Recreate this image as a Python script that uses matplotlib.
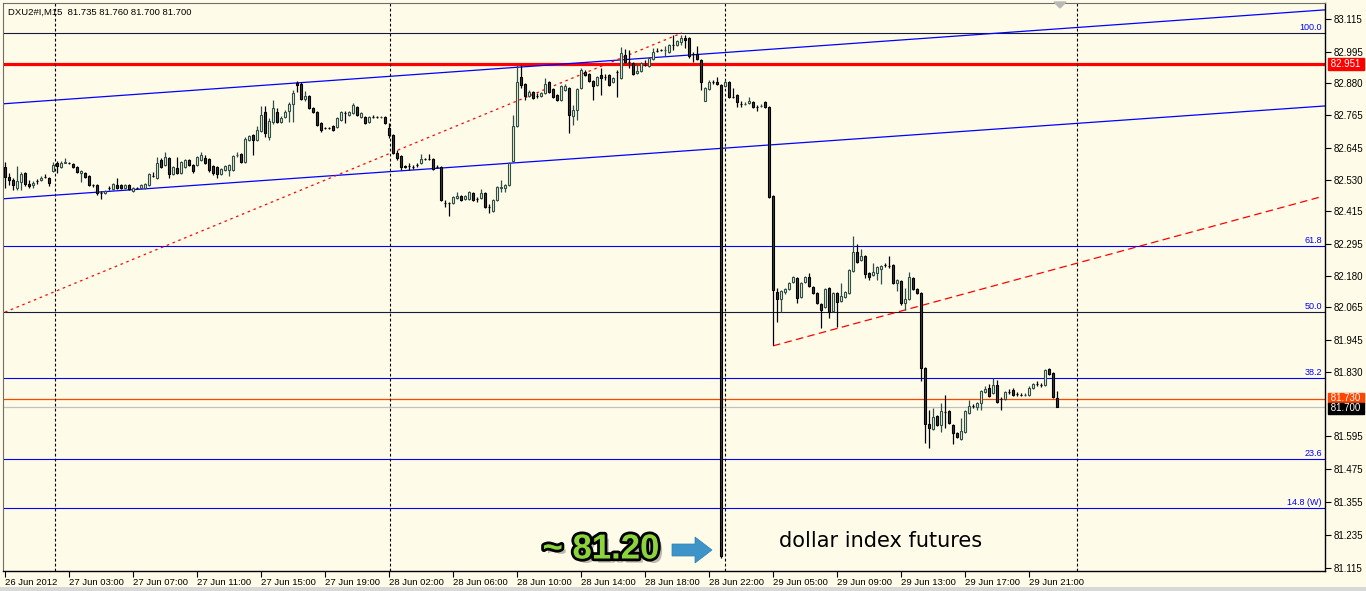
import matplotlib
matplotlib.use('Agg')
import matplotlib.pyplot as plt
import numpy as np
from matplotlib import patheffects as pe
from matplotlib.patches import Polygon

plt.rcParams['font.family'] = ['Liberation Sans', 'DejaVu Sans']

# ---------------- data (DXU2#I, M15) ----------------
opens = [
82.576, 82.539, 82.528, 82.499, 82.521, 82.554, 82.514, 82.510, 82.525, 82.528,
82.539, 82.536, 82.561, 82.590, 82.576, 82.592, 82.591, 82.587, 82.576, 82.554,
82.554, 82.543, 82.511, 82.510, 82.482, 82.481, 82.500, 82.495, 82.510, 82.510,
82.499, 82.510, 82.488, 82.500, 82.499, 82.499, 82.510, 82.544, 82.536, 82.601,
82.583, 82.608, 82.550, 82.572, 82.554, 82.576, 82.601, 82.583, 82.583, 82.601,
82.608, 82.605, 82.579, 82.576, 82.550, 82.565, 82.565, 82.565, 82.618, 82.623,
82.594, 82.674, 82.692, 82.674, 82.707, 82.776, 82.685, 82.740, 82.776, 82.740,
82.758, 82.780, 82.805, 82.880, 82.878, 82.823, 82.834, 82.791, 82.776, 82.736,
82.719, 82.718, 82.725, 82.721, 82.747, 82.773, 82.765, 82.772, 82.794, 82.758,
82.758, 82.740, 82.759, 82.758, 82.757, 82.758, 82.718, 82.692, 82.627, 82.616,
82.579, 82.580, 82.577, 82.584, 82.590, 82.606, 82.605, 82.605, 82.577, 82.576,
82.446, 82.445, 82.445, 82.463, 82.470, 82.459, 82.459, 82.481, 82.460, 82.463,
82.481, 82.431, 82.415, 82.456, 82.499, 82.499, 82.510, 82.598, 82.725, 82.903,
82.878, 82.834, 82.849, 82.835, 82.834, 82.845, 82.885, 82.860, 82.838, 82.820,
82.856, 82.863, 82.761, 82.783, 82.863, 82.922, 82.914, 82.889, 82.874, 82.911,
82.904, 82.911, 82.885, 82.923, 82.900, 82.984, 82.959, 82.954, 82.918, 82.925,
82.948, 82.944, 82.969, 82.999, 83.002, 83.001, 82.995, 83.021, 83.020, 83.031,
83.046, 83.046, 82.988, 82.987, 82.965, 82.816, 82.860, 82.886, 82.885, 82.874,
82.871, 82.885, 82.832, 82.838, 82.806, 82.805, 82.809, 82.812, 82.795, 82.797,
82.812, 82.794, 82.470, 82.120, 82.095, 82.120, 82.131, 82.157, 82.171, 82.102,
82.157, 82.175, 82.139, 82.117, 82.077, 82.066, 82.135, 82.051, 82.117, 82.087,
82.102, 82.117, 82.197, 82.266, 82.237, 82.251, 82.190, 82.182, 82.190, 82.204,
82.220, 82.216, 82.219, 82.153, 82.160, 82.080, 82.095, 82.171, 82.131, 82.117,
81.843, 81.639, 81.621, 81.669, 81.636, 81.684, 81.687, 81.636, 81.607, 81.585,
81.610, 81.679, 81.706, 81.701, 81.716, 81.756, 81.770, 81.752, 81.781, 81.731,
81.730, 81.757, 81.763, 81.750, 81.746, 81.745, 81.745, 81.770, 81.786, 81.782,
81.781, 81.840, 81.825, 81.735]

highs = [
82.594, 82.554, 82.536, 82.579, 82.557, 82.557, 82.528, 82.525, 82.532, 82.543,
82.550, 82.539, 82.594, 82.598, 82.598, 82.608, 82.594, 82.590, 82.579, 82.565,
82.557, 82.546, 82.514, 82.514, 82.488, 82.492, 82.506, 82.517, 82.536, 82.514,
82.514, 82.514, 82.503, 82.503, 82.514, 82.517, 82.554, 82.557, 82.612, 82.608,
82.630, 82.612, 82.579, 82.612, 82.598, 82.605, 82.605, 82.587, 82.616, 82.630,
82.619, 82.608, 82.583, 82.579, 82.572, 82.583, 82.587, 82.619, 82.630, 82.627,
82.685, 82.692, 82.696, 82.725, 82.798, 82.798, 82.754, 82.820, 82.791, 82.761,
82.783, 82.812, 82.856, 82.889, 82.885, 82.852, 82.838, 82.794, 82.780, 82.740,
82.721, 82.721, 82.729, 82.758, 82.780, 82.780, 82.780, 82.809, 82.798, 82.776,
82.761, 82.761, 82.765, 82.761, 82.761, 82.761, 82.736, 82.696, 82.638, 82.619,
82.583, 82.590, 82.583, 82.590, 82.623, 82.608, 82.623, 82.608, 82.583, 82.579,
82.456, 82.448, 82.470, 82.485, 82.474, 82.474, 82.488, 82.485, 82.466, 82.495,
82.485, 82.441, 82.459, 82.506, 82.528, 82.514, 82.594, 82.765, 82.947, 82.947,
82.882, 82.856, 82.852, 82.845, 82.849, 82.900, 82.889, 82.863, 82.842, 82.874,
82.878, 82.867, 82.801, 82.863, 82.936, 82.929, 82.918, 82.893, 82.907, 82.936,
82.914, 82.914, 82.903, 82.929, 83.013, 83.006, 83.002, 82.958, 82.951, 82.958,
82.965, 82.976, 83.009, 83.009, 83.006, 83.016, 83.024, 83.057, 83.038, 83.057,
83.057, 83.049, 82.995, 83.016, 82.969, 82.867, 82.893, 82.893, 82.903, 82.878,
82.893, 82.889, 82.863, 82.842, 82.816, 82.812, 82.831, 82.816, 82.801, 82.805,
82.816, 82.798, 82.474, 82.135, 82.128, 82.135, 82.157, 82.179, 82.175, 82.157,
82.179, 82.190, 82.142, 82.120, 82.080, 82.135, 82.139, 82.120, 82.120, 82.153,
82.124, 82.204, 82.324, 82.295, 82.277, 82.255, 82.193, 82.225, 82.215, 82.219,
82.225, 82.251, 82.222, 82.168, 82.164, 82.135, 82.193, 82.175, 82.135, 82.120,
81.847, 81.690, 81.698, 81.672, 81.716, 81.745, 81.690, 81.639, 81.610, 81.661,
81.690, 81.727, 81.712, 81.720, 81.763, 81.778, 81.785, 81.807, 81.800, 81.738,
81.760, 81.767, 81.770, 81.756, 81.752, 81.752, 81.778, 81.789, 81.796, 81.789,
81.840, 81.843, 81.829, 81.760]

lows = [
82.499, 82.510, 82.492, 82.492, 82.492, 82.506, 82.499, 82.499, 82.514, 82.525,
82.536, 82.506, 82.557, 82.554, 82.572, 82.590, 82.587, 82.572, 82.554, 82.521,
82.536, 82.506, 82.503, 82.474, 82.459, 82.477, 82.492, 82.492, 82.495, 82.495,
82.495, 82.492, 82.485, 82.495, 82.495, 82.495, 82.506, 82.539, 82.532, 82.572,
82.579, 82.536, 82.546, 82.550, 82.550, 82.572, 82.579, 82.554, 82.579, 82.598,
82.587, 82.557, 82.546, 82.536, 82.546, 82.561, 82.543, 82.561, 82.612, 82.590,
82.590, 82.670, 82.619, 82.670, 82.703, 82.685, 82.674, 82.732, 82.736, 82.736,
82.754, 82.740, 82.740, 82.849, 82.820, 82.816, 82.787, 82.772, 82.725, 82.703,
82.714, 82.714, 82.707, 82.718, 82.743, 82.736, 82.761, 82.769, 82.761, 82.754,
82.732, 82.736, 82.754, 82.754, 82.754, 82.732, 82.681, 82.623, 82.601, 82.565,
82.572, 82.565, 82.568, 82.576, 82.587, 82.601, 82.601, 82.565, 82.572, 82.452,
82.430, 82.397, 82.441, 82.459, 82.452, 82.456, 82.456, 82.452, 82.448, 82.459,
82.426, 82.408, 82.412, 82.452, 82.485, 82.485, 82.506, 82.594, 82.721, 82.863,
82.820, 82.831, 82.823, 82.827, 82.831, 82.842, 82.845, 82.827, 82.816, 82.816,
82.852, 82.699, 82.729, 82.747, 82.860, 82.907, 82.885, 82.820, 82.871, 82.838,
82.893, 82.871, 82.882, 82.831, 82.896, 82.954, 82.936, 82.911, 82.914, 82.922,
82.944, 82.940, 82.965, 82.995, 82.998, 82.980, 82.991, 83.002, 83.016, 83.020,
83.009, 82.973, 82.958, 82.965, 82.856, 82.816, 82.856, 82.878, 82.874, 81.151,
82.867, 82.827, 82.827, 82.794, 82.794, 82.801, 82.805, 82.791, 82.780, 82.794,
82.791, 82.463, 81.927, 82.011, 82.047, 82.113, 82.128, 82.153, 82.080, 82.098,
82.153, 82.139, 82.113, 82.077, 81.989, 82.062, 82.026, 82.047, 81.993, 82.084,
82.098, 82.113, 82.193, 82.225, 82.233, 82.171, 82.164, 82.179, 82.164, 82.149,
82.211, 82.208, 82.149, 82.124, 82.073, 82.055, 82.091, 82.128, 82.113, 81.796,
81.570, 81.552, 81.618, 81.632, 81.610, 81.625, 81.639, 81.567, 81.588, 81.581,
81.607, 81.676, 81.698, 81.690, 81.690, 81.752, 81.738, 81.749, 81.716, 81.690,
81.727, 81.749, 81.741, 81.741, 81.741, 81.741, 81.741, 81.767, 81.778, 81.774,
81.778, 81.818, 81.734, 81.700]

closes = [
82.539, 82.528, 82.510, 82.525, 82.550, 82.514, 82.506, 82.517, 82.523, 82.536,
82.538, 82.517, 82.583, 82.579, 82.590, 82.594, 82.589, 82.576, 82.557, 82.561,
82.539, 82.510, 82.509, 82.481, 82.480, 82.488, 82.498, 82.514, 82.499, 82.499,
82.510, 82.495, 82.499, 82.498, 82.510, 82.514, 82.550, 82.542, 82.590, 82.576,
82.612, 82.550, 82.576, 82.554, 82.594, 82.601, 82.583, 82.561, 82.612, 82.619,
82.590, 82.565, 82.554, 82.550, 82.568, 82.579, 82.583, 82.616, 82.620, 82.594,
82.678, 82.689, 82.674, 82.710, 82.765, 82.699, 82.743, 82.791, 82.740, 82.754,
82.776, 82.805, 82.845, 82.876, 82.823, 82.834, 82.791, 82.776, 82.729, 82.710,
82.717, 82.716, 82.710, 82.754, 82.776, 82.771, 82.776, 82.801, 82.765, 82.772,
82.736, 82.758, 82.757, 82.757, 82.758, 82.736, 82.692, 82.627, 82.608, 82.576,
82.575, 82.578, 82.575, 82.582, 82.605, 82.604, 82.603, 82.568, 82.575, 82.456,
82.444, 82.443, 82.466, 82.470, 82.456, 82.470, 82.485, 82.456, 82.458, 82.481,
82.430, 82.429, 82.456, 82.503, 82.503, 82.510, 82.590, 82.725, 82.885, 82.874,
82.834, 82.849, 82.827, 82.833, 82.845, 82.878, 82.849, 82.831, 82.820, 82.871,
82.871, 82.765, 82.783, 82.860, 82.929, 82.911, 82.889, 82.871, 82.903, 82.900,
82.902, 82.874, 82.900, 82.921, 82.991, 82.958, 82.957, 82.914, 82.925, 82.954,
82.946, 82.973, 82.995, 82.997, 83.000, 83.003, 83.020, 83.019, 83.035, 83.046,
83.038, 82.980, 82.986, 82.969, 82.885, 82.863, 82.885, 82.884, 82.878, 81.159,
82.885, 82.831, 82.830, 82.812, 82.804, 82.806, 82.816, 82.794, 82.793, 82.799,
82.794, 82.466, 82.128, 82.095, 82.124, 82.131, 82.153, 82.175, 82.098, 82.153,
82.175, 82.142, 82.117, 82.080, 82.055, 82.131, 82.047, 82.117, 82.084, 82.106,
82.120, 82.201, 82.266, 82.229, 82.251, 82.186, 82.175, 82.193, 82.211, 82.215,
82.218, 82.214, 82.153, 82.164, 82.080, 82.095, 82.175, 82.131, 82.117, 81.843,
81.639, 81.625, 81.665, 81.636, 81.687, 81.682, 81.643, 81.607, 81.592, 81.614,
81.687, 81.705, 81.704, 81.716, 81.760, 81.767, 81.741, 81.781, 81.720, 81.729,
81.756, 81.755, 81.745, 81.748, 81.744, 81.746, 81.770, 81.785, 81.784, 81.780,
81.836, 81.822, 81.738, 81.700]

x_tick_bars = [0, 16, 32, 48, 64, 80, 96, 112, 128, 144, 160, 176, 192, 208, 224, 240, 256]
x_tick_labels = ['26 Jun 2012', '27 Jun 03:00', '27 Jun 07:00', '27 Jun 11:00', '27 Jun 15:00',
                 '27 Jun 19:00', '28 Jun 02:00', '28 Jun 06:00', '28 Jun 10:00', '28 Jun 14:00',
                 '28 Jun 18:00', '28 Jun 22:00', '29 Jun 05:00', '29 Jun 09:00', '29 Jun 13:00',
                 '29 Jun 17:00', '29 Jun 21:00']
y_ticks = [83.115, 82.995, 82.880, 82.765, 82.645, 82.530, 82.415, 82.295, 82.180, 82.065,
           81.945, 81.830, 81.595, 81.475, 81.355, 81.235, 81.115]

day_separators = [12.5, 96.25, 180, 268]

fib_high, fib_low = 83.062, 81.033
fib_levels = [100.0, 61.8, 50.0, 38.2, 23.6, 14.8]
fib_names = ['100.0', '61.8', '50.0', '38.2', '23.6', '14.8 (W)']
fib_colors = ['#1A1A3A', '#0000FF', '#1A1A3A', '#0000FF', '#0000FF', '#0000FF']

channel_upper = ([-1.25, 330], [82.805, 83.148])
channel_lower = ([-1.25, 330], [82.459, 82.798])
trend_dotted = ([0, 169.25], [82.047, 83.064])
trend_dashed = ([192, 328.75], [81.924, 82.466])

resistance = 82.951
ask_line = 81.730
bid_line = 81.700
header = 'DXU2#I,M15  81.735 81.760 81.700 81.700'

# ---------------- styling ----------------
BG = '#FEFCE8'
BULL_FILL, BULL_EDGE = '#F4F4C4', '#2F4F4F'
BEAR_FILL, BEAR_EDGE = '#3A3A3A', '#000000'

W, H = 1366, 591
fig = plt.figure(figsize=(W / 100, H / 100), dpi=100)
fig.patch.set_facecolor(BG)
ax = fig.add_axes([3 / W, (H - 571) / H, (1325 - 3) / W, (571 - 3) / H])
ax.set_facecolor(BG)
ax.set_xlim(-0.5, 330)
ax.set_ylim(81.104, 83.173)

o = np.array(opens); h = np.array(highs); l = np.array(lows); c = np.array(closes)
idx = np.arange(len(o))
bull = c > o

# fib lines
for lv, nm, fc in zip(fib_levels, fib_names, fib_colors):
    p = fib_low + lv / 100.0 * (fib_high - fib_low)
    ax.axhline(p, color=fc, lw=0.8, zorder=2)
    ax.text(329.2, p + 0.004, nm, color='#0000FF', fontsize=6.5, ha='right', va='bottom', zorder=2)

ax.axhline(resistance, color='#FF0000', lw=2.3, zorder=2)
ax.axhline(ask_line, color='#FF4500', lw=0.9, zorder=2)
ax.axhline(bid_line, color='#C0C0C0', lw=0.9, zorder=2)

ax.plot(*channel_upper, color='#0000FF', lw=0.9, zorder=2)
ax.plot(*channel_lower, color='#0000FF', lw=0.9, zorder=2)
ax.plot(*trend_dotted, color='#FF0000', lw=0.9, ls=(0, (2, 3)), zorder=2)
ax.plot(*trend_dashed, color='#FF0000', lw=0.9, ls=(0, (6, 3.5)), zorder=2)

for d in day_separators:
    ax.axvline(d, color='#000000', lw=0.8, ls=(0, (2.5, 2)), zorder=2)

# candles
ax.vlines(idx[bull], l[bull], h[bull], color=BULL_EDGE, lw=0.9, zorder=3)
ax.vlines(idx[~bull], l[~bull], h[~bull], color=BEAR_EDGE, lw=0.9, zorder=3)
bb = np.minimum(o, c); bh = np.abs(c - o)
ax.bar(idx[bull], bh[bull], bottom=bb[bull], width=0.68, color=BULL_FILL,
       edgecolor=BULL_EDGE, linewidth=0.8, zorder=4)
ax.bar(idx[~bull], bh[~bull], bottom=bb[~bull], width=0.68, color=BEAR_FILL,
       edgecolor=BEAR_EDGE, linewidth=0.8, zorder=4)

# axes
ax.yaxis.tick_right()
ax.set_yticks(y_ticks)
ax.set_yticklabels(['%.3f' % v for v in y_ticks])
ax.set_xticks(x_tick_bars)
ax.set_xticklabels(x_tick_labels, ha='left')
ax.tick_params(axis='y', direction='out', length=4, width=0.8, pad=2, labelsize=7, colors='black')
ax.tick_params(axis='x', direction='out', length=4, width=0.8, pad=1, labelsize=6.8, colors='black')
for s in ['left', 'top']:
    ax.spines[s].set_color('#6E6E6E')
for s in ['right', 'bottom']:
    ax.spines[s].set_color('black')
    ax.spines[s].set_linewidth(1.0)

# price tags
yt = ax.get_yaxis_transform()
tag_offsets = [0.0, 0.003, -0.0035]
for val, fc, off in zip([resistance, ask_line, bid_line], ['#FF0000', '#FF4500', '#000000'], tag_offsets):
    ax.text(1.0025, val + off, ' %.3f ' % val, transform=yt, fontsize=7, color='white',
            va='center', ha='left', zorder=10, clip_on=False,
            bbox=dict(boxstyle='square,pad=0.08', fc=fc, ec=fc))

# header
fig.text(8 / W, 1 - 12 / H, header, fontsize=6.8, color='black', va='center', ha='left')

# chart shift marker
fig.patches.append(Polygon([[1054 / W, 1 - 2 / H], [1066 / W, 1 - 2 / H], [1060 / W, 1 - 8 / H]],
                           closed=True, transform=fig.transFigure, fc='#B8B8B8', ec='#B8B8B8'))

# annotations
t = fig.text(601 / W, 1 - 549 / H, '~ 81.20', fontsize=25, fontweight='bold', color='#8CD43C',
             ha='center', va='center', zorder=20)
t.set_path_effects([pe.SimplePatchShadow(offset=(3, -3), shadow_rgbFace='#777777', alpha=0.5),
                    pe.withStroke(linewidth=4, foreground='black')])
arrow_pts = [[672, 544], [695, 544], [695, 537], [712, 550], [695, 563], [695, 556], [672, 556]]
fig.patches.append(Polygon([[x / W, 1 - y / H] for x, y in arrow_pts], closed=True,
                           transform=fig.transFigure, fc='#3E93C9', ec='#2E7FB2', lw=0.5, zorder=20))
fig.text(881 / W, 1 - 541 / H, 'dollar index futures', fontsize=15, color='#000000',
         ha='center', va='center', family=['DejaVu Sans'])

# bottom frame strip
fig.patches.append(plt.Rectangle((0, 0), 1, 4 / H, transform=fig.transFigure, fc='#D8D8D8', ec='none'))

fig.savefig('out.png', dpi=100, facecolor=BG)
